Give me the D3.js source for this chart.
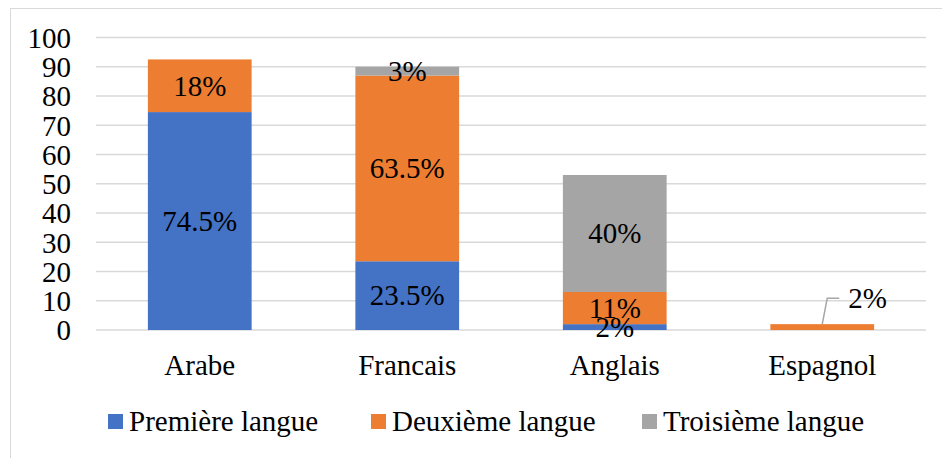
<!DOCTYPE html>
<html><head><meta charset="utf-8">
<script src="https://cdn.jsdelivr.net/npm/d3@7"></script>
<style>body{margin:0;background:#fff}svg{display:block}</style>
</head><body>
<script>
const categories = ["Arabe", "Francais", "Anglais", "Espagnol"];
const seriesNames = ["Première langue", "Deuxième langue", "Troisième langue"];
const premiere = [74.5, 23.5, 2, 0];
const deuxieme = [18, 63.5, 11, 2];
const troisieme = [0, 3, 40, 0];
const labelsPremiere = ["74.5%", "23.5%", "2%", ""];
const labelsDeuxieme = ["18%", "63.5%", "11%", "2%"];
const labelsTroisieme = ["", "3%", "40%", ""];
const yTicks = [0, 10, 20, 30, 40, 50, 60, 70, 80, 90, 100];
const colors = ["#4472c4", "#ed7d31", "#a5a5a5"];

const W = 942, H = 458;
const FONT = '"Liberation Serif"';
const FS = "29px";
const svg = d3.select("body").append("svg").attr("width", W).attr("height", H);
function styleText(sel) {
  return sel.style("font-family", FONT).style("font-size", FS).attr("fill", "#000");
}

svg.append("rect").attr("x", 10.5).attr("y", 8.5).attr("width", 960).attr("height", 480)
  .attr("fill", "none").attr("stroke", "#d9d9d9").attr("stroke-width", 1);

const x = d3.scaleBand().domain(categories).range([96, 926]).paddingInner(0.5).paddingOuter(0.25);
const y = d3.scaleLinear().domain([0, 100]).range([330, 37.5]);

// gridlines
svg.append("g").selectAll("line").data(yTicks).join("line")
  .attr("x1", 96).attr("x2", 926)
  .attr("y1", d => y(d)).attr("y2", d => y(d))
  .attr("stroke", "#d9d9d9").attr("stroke-width", 1.5);

// y tick labels
const yAxis = d3.axisLeft(y).tickValues(yTicks).tickSize(0).tickPadding(0);
const ga = svg.append("g").attr("transform", "translate(71,0)").call(yAxis);
ga.attr("font-family", null).attr("font-size", null);
ga.select(".domain").remove();
styleText(ga.selectAll("text")).attr("dy", "0.34em");

// stacked data
const rows = categories.map((c, i) => ({cat: c, s0: premiere[i], s1: deuxieme[i], s2: troisieme[i]}));
const labels = [labelsPremiere, labelsDeuxieme, labelsTroisieme];
const stack = d3.stack().keys(["s0", "s1", "s2"])(rows);

stack.forEach((layer, k) => {
  svg.append("g").selectAll("rect").data(layer.filter(d => d[1] - d[0] > 0)).join("rect")
    .attr("x", d => x(d.data.cat)).attr("width", x.bandwidth())
    .attr("y", d => y(d[1])).attr("height", d => y(d[0]) - y(d[1]))
    .attr("fill", colors[k]);
});

// data labels
stack.forEach((layer, k) => {
  layer.forEach((d, i) => {
    const txt = labels[k][i];
    if (!txt || d[1] - d[0] <= 0) return;
    const cx = x(d.data.cat) + x.bandwidth() / 2;
    if (d.data.cat === "Espagnol") {
      const x0 = cx, y0 = y(d[1]);
      svg.append("path")
        .attr("d", `M${x0},${y0} L${x0 + 5},${y0 - 26} L${x0 + 17},${y0 - 26}`)
        .attr("fill", "none").attr("stroke", "#a6a6a6").attr("stroke-width", 1.5);
      styleText(svg.append("text")).attr("x", x0 + 26).attr("y", y0 - 26)
        .attr("dy", "0.34em").text(txt);
    } else {
      styleText(svg.append("text")).attr("x", cx).attr("y", (y(d[0]) + y(d[1])) / 2)
        .attr("dy", "0.34em").attr("text-anchor", "middle").text(txt);
    }
  });
});

// x category labels
const xAxis = d3.axisBottom(x).tickSize(0).tickPadding(0);
const gx = svg.append("g").attr("transform", "translate(0,365)").call(xAxis);
gx.attr("font-family", null).attr("font-size", null);
gx.select(".domain").remove();
styleText(gx.selectAll("text")).attr("dy", "0.34em");

// legend
const legX = [108, 371, 642];
const lg = svg.append("g");
seriesNames.forEach((n, i) => {
  lg.append("rect").attr("x", legX[i]).attr("y", 414).attr("width", 15).attr("height", 15).attr("fill", colors[i]);
  styleText(lg.append("text")).attr("x", legX[i] + 21).attr("y", 421.5).attr("dy", "0.34em").text(n);
});
</script>
</body></html>
